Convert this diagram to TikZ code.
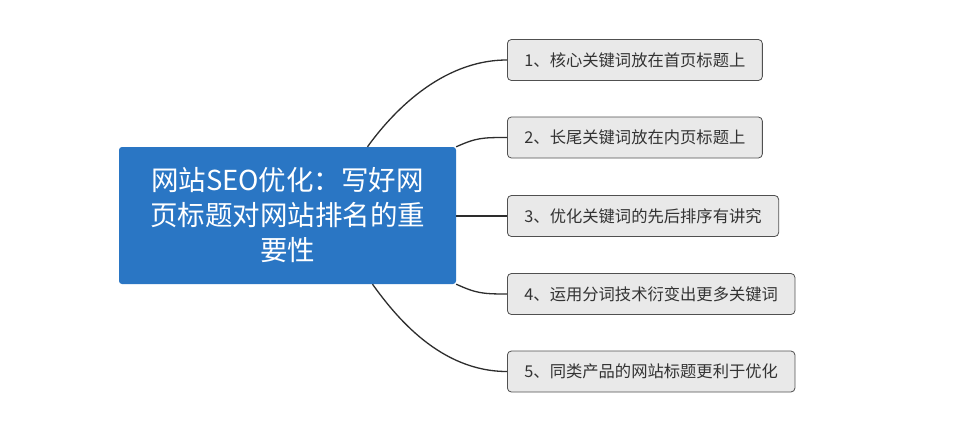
\documentclass[tikz,border=0pt]{standalone}
\usepackage{fontspec}
\setmainfont{Noto Sans CJK SC}
\usetikzlibrary{arrows.meta}
\definecolor{rootblue}{RGB}{42, 118, 196}
\definecolor{leafgray}{RGB}{233, 233, 233}
\definecolor{leafline}{RGB}{80, 80, 80}
\definecolor{linkgray}{RGB}{45, 45, 45}

\tikzset{
  root/.style={fill=rootblue, text=white, rounded corners=3pt, minimum width=337pt,
    minimum height=137pt, align=center, font=\fontsize{27.5}{35}\selectfont},
  leaf/.style={draw=leafline, fill=leafgray, line width=0.8pt, rounded corners=4pt,
    minimum height=41pt, inner xsep=17pt, anchor=west, text=black!80,
    font=\fontsize{16.3}{18}\selectfont},
  link/.style={draw=linkgray, line width=1.3pt}
}

\begin{document}
\begin{tikzpicture}[x=1pt, y=-1pt]
  \useasboundingbox[fill=white] (0,0) rectangle (966,423);

  \node[root] (root) at (287.5, 215.5) {网站SEO优化：写好网\\页标题对网站排名的重\\要性};

  \node[leaf] (b1) at (507, 60)    {1、核心关键词放在首页标题上};
  \node[leaf] (b2) at (507, 137.5) {2、长尾关键词放在内页标题上};
  \node[leaf] (b3) at (507, 216)   {3、优化关键词的先后排序有讲究};
  \node[leaf] (b4) at (507, 294)   {4、运用分词技术衍变出更多关键词};
  \node[leaf] (b5) at (507, 371.5) {5、同类产品的网站标题更利于优化};

  \path[link] ([xshift=80pt]root.north) .. controls +(23,-32) and +(-67,0) .. (b1.west);
  \path[link] (root.north east) .. controls +(20,-9) and +(-25,0) .. (b2.west);
  \path[link] (root.east |- b3.west) -- (b3.west);
  \path[link] (root.south east) .. controls +(20,9) and +(-25,0) .. (b4.west);
  \path[link] ([xshift=85pt]root.south) .. controls +(23,32) and +(-67,0) .. (b5.west);
\end{tikzpicture}
\end{document}
